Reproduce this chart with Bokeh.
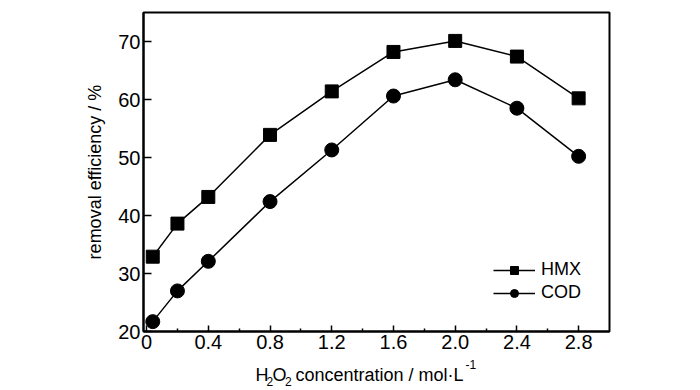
from bokeh.plotting import figure
from bokeh.models import FixedTicker, Legend, LegendItem, Range1d
from bokeh.layouts import column
from bokeh.core.properties import value
from bokeh.embed import file_html
from bokeh.resources import INLINE

# ---- data ----
x_conc = [0.04, 0.2, 0.4, 0.8, 1.2, 1.6, 2.0, 2.4, 2.8]
hmx = [32.9, 38.6, 43.2, 53.9, 61.4, 68.2, 70.1, 67.4, 60.2]
cod = [21.7, 27.0, 32.1, 42.4, 51.3, 60.6, 63.4, 58.5, 50.2]

x_ticks = [0, 0.4, 0.8, 1.2, 1.6, 2.0, 2.4, 2.8]
x_tick_labels = ["0", "0.4", "0.8", "1.2", "1.6", "2.0", "2.4", "2.8"]
x_minor_ticks = [0.2, 0.6, 1.0, 1.4, 1.8, 2.2, 2.6]
y_ticks = [20, 30, 40, 50, 60, 70]
y_tick_labels = ["20", "30", "40", "50", "60", "70"]

series_names = ["HMX", "COD"]
y_title = "removal efficiency / %"
# x title split into normal / subscript / superscript pieces
x_title_main = ["H", "O", "concentration / mol\u00b7L"]
x_title_sub = ["2", "2"]
x_title_sup = ["-1"]

FONT = "Liberation Sans"

p = figure(width=700, height=358, output_backend="svg", toolbar_location=None,
           title=None,
           x_range=Range1d(-0.02, 3.0), y_range=Range1d(20, 75),
           min_border_left=143, min_border_right=91, min_border_top=12,
           min_border_bottom=27)
p.background_fill_color = "white"
p.border_fill_color = "white"
p.outline_line_color = "black"
p.outline_line_width = 2
p.grid.visible = False

# axes
xa = p.xaxis[0]
xa.ticker = FixedTicker(ticks=x_ticks, minor_ticks=x_minor_ticks)
xa.major_label_overrides = {t: l for t, l in zip(x_ticks, x_tick_labels)}
xa.major_tick_in = 6
xa.major_tick_out = 0
xa.minor_tick_in = 3
xa.minor_tick_out = 0
xa.major_label_standoff = 3

ya = p.yaxis[0]
ya.ticker = FixedTicker(ticks=y_ticks, minor_ticks=[])
ya.major_label_overrides = {t: l for t, l in zip(y_ticks, y_tick_labels)}
ya.major_tick_in = 8
ya.major_tick_out = 0
ya.minor_tick_in = 0
ya.minor_tick_out = 0
ya.major_label_standoff = 3
ya.axis_label = y_title
ya.axis_label_text_font = FONT
ya.axis_label_text_font_size = "18px"
ya.axis_label_text_font_style = "normal"
ya.axis_label_text_color = "black"
ya.axis_label_standoff = 10

for ax in (xa, ya):
    ax.axis_line_width = 2
    ax.axis_line_color = "black"
    ax.major_tick_line_width = 1.5
    ax.major_tick_line_color = "black"
    ax.minor_tick_line_width = 1.5
    ax.minor_tick_line_color = "black"
    ax.major_label_text_font = FONT
    ax.major_label_text_font_size = "20px"
    ax.major_label_text_color = "black"

# series
l1 = p.line(x_conc, hmx, line_color="black", line_width=1.5)
s1 = p.scatter(x_conc, hmx, marker="square", size=13, fill_color="black", line_color="black")
l2 = p.line(x_conc, cod, line_color="black", line_width=1.5)
s2 = p.scatter(x_conc, cod, marker="circle", size=14, fill_color="black", line_color="black")

legend = Legend(items=[LegendItem(label=series_names[0], renderers=[l1, s1]),
                       LegendItem(label=series_names[1], renderers=[l2, s2])],
                location=(350, 28), glyph_width=42, glyph_height=20,
                label_height=20, label_standoff=6, spacing=2, padding=0, margin=0,
                border_line_color=None, background_fill_alpha=0,
                label_text_font=FONT, label_text_font_size="18px",
                label_text_color="black")
p.add_layout(legend)

# ---- strip below the chart for the x-axis title ----
# its frame is aligned with the chart frame, ranges map 1:1 to page pixels
lab = figure(width=700, height=32, output_backend="svg", toolbar_location=None,
             title=None,
             x_range=Range1d(143, 609), y_range=Range1d(390, 358),
             min_border_left=143, min_border_right=91,
             min_border_top=0, min_border_bottom=0)
lab.axis.visible = False
lab.grid.visible = False
lab.outline_line_color = None
lab.background_fill_color = "white"
lab.border_fill_color = "white"

lab.text(x=[255, 272, 295], y=[374, 374, 374], text=x_title_main,
         text_font=value(FONT), text_font_size="18px", text_color="black",
         text_baseline="alphabetic", text_align="left")
lab.text(x=[266, 284.5], y=[381, 381], text=x_title_sub,
         text_font=value(FONT), text_font_size="12px", text_color="black",
         text_baseline="alphabetic", text_align="left")
lab.text(x=[465], y=[364], text=x_title_sup,
         text_font=value(FONT), text_font_size="12px", text_color="black",
         text_baseline="alphabetic", text_align="left")

layout = column(p, lab, spacing=0)
open("out.html", "w").write(file_html(layout, INLINE))
